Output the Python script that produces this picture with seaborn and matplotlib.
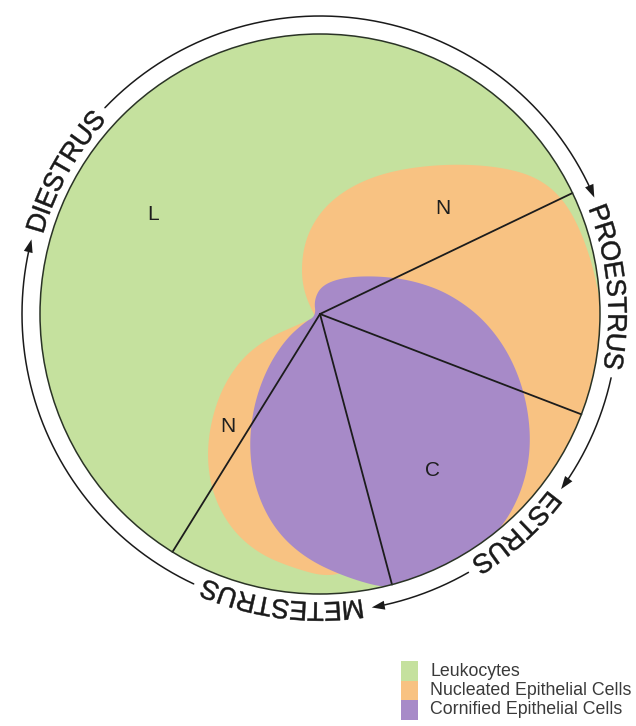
import numpy as np
import pandas as pd
import matplotlib
matplotlib.use("Agg")
import matplotlib.pyplot as plt
from matplotlib.patches import Circle, Polygon, Rectangle, PathPatch
from matplotlib.path import Path
from matplotlib.textpath import TextPath
from matplotlib.font_manager import FontProperties
import seaborn as sns

######################## data ########################
stages = ["PROESTRUS", "ESTRUS", "METESTRUS", "DIESTRUS"]
# boundaries between the stages (degrees, counter-clockwise from 3 o'clock)
stage_start_deg = [25.6, -21.0, -75.1, -121.8]
# where each stage name starts on the outer ring
label_start_deg = [21.5, -37.5, -81.5, 164.0]

cell_types = ["Leukocytes", "Nucleated Epithelial Cells", "Cornified Epithelial Cells"]
cell_colors = ["#c5e19e", "#f8c282", "#a78ac8"]

region_letters = ["L", "N", "N", "C"]
region_x = [153, 443, 228, 432]
region_y = [215, 208, 427, 470]

# outlines of the cell populations (pixel space, smoothed later)
orange_upper_x = [312, 302, 302, 310, 328, 357, 395, 445, 495, 535, 563, 583, 598, 612, 600, 560, 500, 440, 380, 340]
orange_upper_y = [312, 285, 255, 228, 203, 183, 170, 164, 166, 176, 198, 235, 285, 380, 470, 540, 585, 590, 480, 360]

orange_lower_x = [318, 295, 268, 242, 222, 210, 207, 214, 232, 258, 290, 330, 360, 340, 330]
orange_lower_y = [316, 326, 338, 358, 388, 425, 462, 498, 530, 553, 567, 578, 565, 450, 340]

purple_x = [314, 322, 345, 380, 415, 450, 485, 512, 528, 531, 518, 492, 456, 422, 388, 345, 305, 275, 256, 249, 253, 266, 285, 305, 316]
purple_y = [300, 285, 277, 276, 281, 294, 320, 358, 405, 455, 502, 540, 568, 584, 589, 577, 558, 530, 492, 450, 408, 370, 340, 322, 316]

######################## layout ########################
CX, CY, R_IN, R_OUT = 320, 314, 280, 298
LABEL_PX = 27

sns.set_theme(style="white")
plt.rcParams['font.family'] = ['Liberation Sans', 'DejaVu Sans']

fig = plt.figure(figsize=(6.36, 7.26), dpi=100)
ax = fig.add_axes([0, 0, 1, 1])


def smooth(xs, ys, n=4):
    p = np.column_stack([xs, ys]).astype(float)
    for _ in range(n):
        q = np.roll(p, -1, axis=0)
        out = np.empty((2 * len(p), 2))
        out[0::2] = 0.75 * p + 0.25 * q
        out[1::2] = 0.25 * p + 0.75 * q
        p = out
    return p


def pt(deg, r):
    t = np.radians(deg)
    return CX + r * np.cos(t), CY - r * np.sin(t)


# base circle = leukocytes
disc = Circle((CX, CY), R_IN, facecolor=cell_colors[0], edgecolor="none", zorder=1)
ax.add_patch(disc)

for xs, ys, col in [(orange_upper_x, orange_upper_y, cell_colors[1]),
                    (orange_lower_x, orange_lower_y, cell_colors[1]),
                    (purple_x, purple_y, cell_colors[2])]:
    poly = Polygon(smooth(xs, ys), closed=True, facecolor=col, edgecolor="none", zorder=2)
    ax.add_patch(poly)
    poly.set_clip_path(disc)

ax.add_patch(Circle((CX, CY), R_IN, facecolor="none", edgecolor="#2a3326", lw=1.1, zorder=4))

# spokes between stages
rows = []
for s, a in zip(stages, stage_start_deg):
    x1, y1 = pt(a, R_IN)
    rows.append({"spoke": s, "x": CX, "y": CY})
    rows.append({"spoke": s, "x": x1, "y": y1})
spokes = pd.DataFrame(rows)
sns.lineplot(data=spokes, x="x", y="y", units="spoke", estimator=None, sort=False,
             color="#1c1c1c", lw=1.3, ax=ax, zorder=3, legend=False)

# letters in the regions
for t, x, y in zip(region_letters, region_x, region_y):
    ax.text(x, y, t, fontsize=15, ha="center", va="center", color="#1e1e1e", zorder=5)

# stage names bent along the outer ring
fp = FontProperties(family="Liberation Sans")
cap = 0.716 * LABEL_PX


def arc_text(text, start_deg, r):
    tp = TextPath((0, 0), text, size=LABEL_PX, prop=fp)
    v = tp.vertices
    th = np.radians(start_deg) - v[:, 0] / r
    rad = r - cap / 2 + v[:, 1]
    bent = np.column_stack([CX + rad * np.cos(th), CY - rad * np.sin(th)])
    ax.add_patch(PathPatch(Path(bent, tp.codes), facecolor="#1a1a1a",
                           edgecolor="#1a1a1a", lw=0.35, zorder=5))
    return start_deg - np.degrees(tp.get_extents().x1 / r)


ends = [arc_text(s, a, R_OUT) for s, a in zip(stages, label_start_deg)]

AL, AW = 13, 9
for i, e in enumerate(ends):
    nxt = label_start_deg[(i + 1) % len(stages)] + 1.5
    while nxt > e:
        nxt -= 360
    a0 = e - 1.8
    tip = np.array(pt(nxt, R_OUT))
    t = np.radians(nxt)
    d = np.array([np.sin(t), np.cos(t)])
    nrm = np.array([-d[1], d[0]])
    base = tip - AL * d
    base_deg = nxt + np.degrees(AL / R_OUT)
    angs = np.linspace(a0, base_deg, 200)
    xs, ys = pt(angs, R_OUT)
    ax.plot(xs, ys, color="#1a1a1a", lw=1.1, zorder=4)
    ax.add_patch(Polygon([tip, base + nrm * AW / 2, base - nrm * AW / 2], closed=True,
                         facecolor="#1a1a1a", edgecolor="none", zorder=5))

# legend
for i, (lab, col) in enumerate(zip(cell_types, cell_colors)):
    y0 = 661 + i * 19.5
    ax.add_patch(Rectangle((401, y0), 17, 19.5, facecolor=col, edgecolor="none"))
    ax.text(430, y0 + 10, lab, fontsize=12.8, ha="left", va="center", color="#3a3a3a")

ax.set_xlim(0, 636)
ax.set_ylim(726, 0)
ax.axis("off")
fig.savefig("out.png", dpi=100)
